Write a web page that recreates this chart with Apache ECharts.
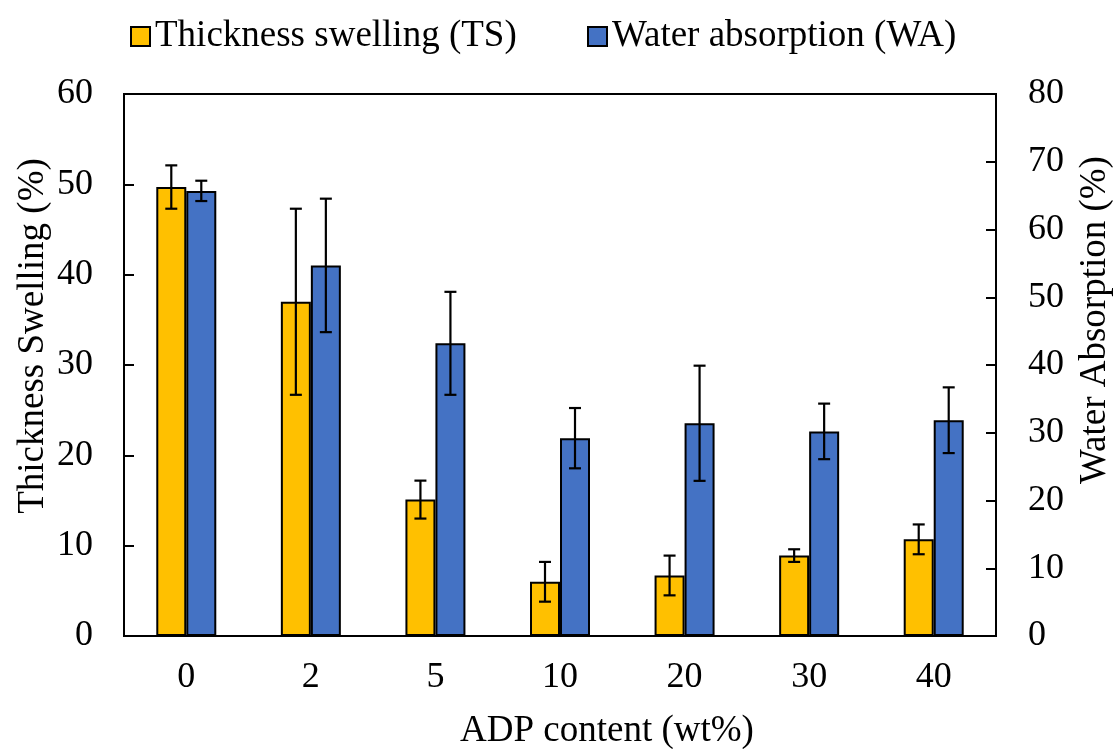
<!DOCTYPE html>
<html>
<head>
<meta charset="utf-8">
<script src="https://cdn.jsdelivr.net/npm/echarts@6/dist/echarts.min.js"></script>
<style>html,body{margin:0;padding:0;background:#fff;}#c{width:1115px;height:749px;}</style>
</head>
<body>
<div id="c"></div>
<script>
const categories = ['0', '2', '5', '10', '20', '30', '40'];
const tsValues = [49.7, 37.0, 15.1, 6.0, 6.7, 8.9, 10.7];
const tsErrors = [2.4, 10.3, 2.1, 2.2, 2.2, 0.7, 1.65];
const waValues = [65.7, 54.7, 43.2, 29.2, 31.4, 30.2, 31.85];
const waErrors = [1.5, 9.85, 7.6, 4.45, 8.5, 4.1, 4.85];
const leftTicks = [0, 60, 10];
const rightTicks = [0, 80, 10];

const FONT = '"Liberation Serif", "Times New Roman", serif';
const BAR_W = 30;

function errorSeries(name, values, errors, axisIndex, offset) {
  return {
    type: 'custom',
    name: name + ' err',
    yAxisIndex: axisIndex,
    z: 10,
    silent: true,
    data: values.map((v, i) => [i, v - errors[i], v + errors[i]]),
    renderItem: function (params, api) {
      const lo = api.coord([api.value(0), api.value(1)]);
      const hi = api.coord([api.value(0), api.value(2)]);
      const x = lo[0] + offset;
      const cap = 6;
      const style = { stroke: '#000', lineWidth: 2.2 };
      return {
        type: 'group',
        children: [
          { type: 'line', shape: { x1: x, y1: lo[1], x2: x, y2: hi[1] }, style: style },
          { type: 'line', shape: { x1: x - cap, y1: lo[1], x2: x + cap, y2: lo[1] }, style: style },
          { type: 'line', shape: { x1: x - cap, y1: hi[1], x2: x + cap, y2: hi[1] }, style: style }
        ]
      };
    }
  };
}

const chart = echarts.init(document.getElementById('c'));
const legendText = { fontFamily: FONT, fontSize: 37, color: '#000' };
chart.setOption({
  animation: false,
  backgroundColor: '#fff',
  grid: { left: 124, right: 119, top: 94, bottom: 113, show: true, borderColor: '#000', borderWidth: 2, backgroundColor: 'transparent' },
  legend: [
    { data: [{ name: 'Thickness swelling (TS)', icon: 'rect' }], left: 125, top: 13, itemWidth: 19, itemHeight: 19, itemGap: 8, textStyle: legendText },
    { data: [{ name: 'Water absorption (WA)', icon: 'rect' }], left: 582, top: 13, itemWidth: 19, itemHeight: 19, itemGap: 8, textStyle: legendText }
  ],
  xAxis: {
    type: 'category',
    data: categories,
    axisLine: { lineStyle: { color: '#000', width: 2 } },
    axisTick: { show: false },
    axisLabel: { fontFamily: FONT, fontSize: 36, color: '#000', margin: 24 }
  },
  yAxis: [
    {
      type: 'value', min: leftTicks[0], max: leftTicks[1], interval: leftTicks[2],
      axisLine: { show: true, lineStyle: { color: '#000', width: 2 } },
      axisTick: { show: true, inside: true, length: 10, lineStyle: { color: '#000', width: 2 } },
      splitLine: { show: false },
      axisLabel: { fontFamily: FONT, fontSize: 36, color: '#000', margin: 31 }
    },
    {
      type: 'value', min: rightTicks[0], max: rightTicks[1], interval: rightTicks[2],
      position: 'right',
      axisLine: { show: true, lineStyle: { color: '#000', width: 2 } },
      axisTick: { show: true, inside: true, length: 10, lineStyle: { color: '#000', width: 2 } },
      splitLine: { show: false },
      axisLabel: { fontFamily: FONT, fontSize: 36, color: '#000', margin: 32 }
    }
  ],
  graphic: [
    { type: 'text', x: 33, y: 336, rotation: Math.PI / 2, style: { text: 'Thickness Swelling (%)', font: '37px ' + FONT, fill: '#000', textAlign: 'center', textVerticalAlign: 'middle' } },
    { type: 'text', x: 1095, y: 320, rotation: Math.PI / 2, style: { text: 'Water Absorption (%)', font: '37px ' + FONT, fill: '#000', textAlign: 'center', textVerticalAlign: 'middle' } },
    { type: 'text', x: 607, y: 731, style: { text: 'ADP content (wt%)', font: '37px ' + FONT, fill: '#000', textAlign: 'center', textVerticalAlign: 'middle' } }
  ],
  series: [
    {
      name: 'Thickness swelling (TS)', type: 'bar', yAxisIndex: 0, data: tsValues,
      barWidth: BAR_W, barGap: '0%',
      itemStyle: { color: '#FFC000', borderColor: '#000', borderWidth: 2 }
    },
    {
      name: 'Water absorption (WA)', type: 'bar', yAxisIndex: 1, data: waValues,
      barWidth: BAR_W, barGap: '0%',
      itemStyle: { color: '#4472C4', borderColor: '#000', borderWidth: 2 }
    },
    errorSeries('TS', tsValues, tsErrors, 0, -BAR_W / 2),
    errorSeries('WA', waValues, waErrors, 1, BAR_W / 2)
  ]
});
</script>
</body>
</html>
